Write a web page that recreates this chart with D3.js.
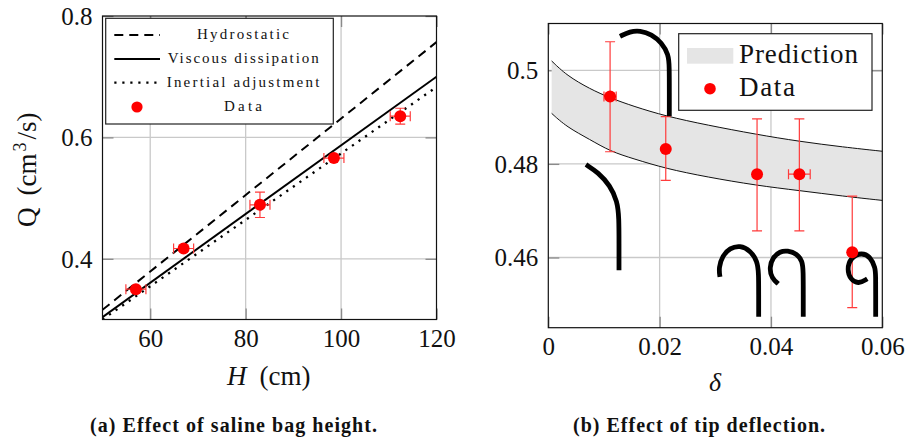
<!DOCTYPE html>
<html>
<head>
<meta charset="utf-8">
<script src="https://cdn.jsdelivr.net/npm/d3@7"></script>
<style>
    html, body { margin: 0; padding: 0; background: #fff; }
    svg { display: block; }
    text { font-family: "Liberation Serif", serif; fill: #111; }
</style>
</head>
<body>
<div id="chart"></div>
<script>
// panel (a): saline bag height
let heightTicks = [60, 80, 100, 120];
let flowTicks = [0.4, 0.6, 0.8];
let heightValues = [57, 67, 83, 98.5, 112.4];
let flowValues = [0.350, 0.417, 0.489, 0.566, 0.635];
let heightErrors = [2.1, 2.1, 2.1, 2.1, 2.1];
let flowErrors = [0.004, 0.004, 0.021, 0.004, 0.013];
let lineHeights = [50, 120];
let hydrostatic = [0.316, 0.757];
let viscous = [0.304, 0.700];
let inertial = [0.300, 0.683];

// panel (b): tip deflection
let deltaTicks = [0, 0.02, 0.04, 0.06];
let deltaTickLabels = ["0", "0.02", "0.04", "0.06"];
let ratioTicks = [0.46, 0.48, 0.5];
let deltaValues = [0.0111, 0.0211, 0.0375, 0.0451, 0.0546];
let deltaErrors = [0.0011, 0, 0, 0.00195, 0];
let ratioValues = [0.4944, 0.4832, 0.4778, 0.4778, 0.4611];
let ratioLow = [0.4826, 0.4765, 0.4657, 0.4657, 0.4493];
let ratioHigh = [0.5061, 0.4901, 0.4896, 0.4896, 0.4731];
let bandDeltas = [0.0006, 0.0033, 0.0075, 0.0111, 0.0153, 0.0211, 0.0285, 0.0374, 0.0451, 0.053, 0.06];
let bandUpper = [0.5020, 0.4989, 0.4960, 0.4941, 0.4923, 0.4902, 0.4883, 0.4863, 0.4848, 0.4836, 0.4827];
let bandLower = [0.4908, 0.4879, 0.4852, 0.4827, 0.4811, 0.4790, 0.4772, 0.4754, 0.4743, 0.4731, 0.4722];

// tip shapes drawn over panel (b), in its data units
let tipShapes = [
    [[.01288, .50726], [.01468, .50830], [.01647, .50850], [.01857, .50770], [.02037, .50590], [.02160, .50335], [.02174, .50085], [.02174, .49500], [.02174, .49018], [.02174, .49018]],
    [[.00677, .47986], [.00898, .47815], [.01108, .47540], [.01240, .47202], [.0127, .46847], [.0127, .46300], [.0127, .45728], [.0127, .45728]],
    [[.03084, .45587], [.03060, .4578], [.03130, .46040], [.03260, .4620], [.03444, .46260], [.03630, .46150], [.03755, .45921], [.03779, .45673], [.03779, .45200], [.03779, .44733], [.03779, .44733]],
    [[.04131, .45438], [.04013, .45560], [.03970, .4578], [.04035, .46010], [.04162, .46130], [.04293, .46150], [.04470, .46080], [.04565, .45921], [.0458, .45707], [.0458, .45200], [.0458, .44733], [.0458, .44733]],
    [[.0573, .45545], [.05569, .45430], [.0543, .45530], [.05365, .45743], [.0543, .46000], [.0563, .46110], [.05790, .46010], [.05875, .4578], [.05881, .456], [.05881, .45200], [.05881, .44733], [.05881, .44733]]
];

const red = "#ff0000";
const errorRed = "#ff3b3b";

let svg = d3.select("#chart").append("svg")
    .attr("width", 911)
    .attr("height", 441);

// the frame, grid and tick labels are the same for both panels
function drawFrame(x, y, xTicks, yTicks, xFormat, yFormat) {
    let [left, right] = x.range();
    let [bottom, top] = y.range();

    let grid = svg.append("g").attr("stroke", "#c9c9c9").attr("stroke-width", 1.3);
    grid.selectAll("line.v")
        .data(xTicks.filter(d => x(d) > left + 1 && x(d) < right - 1))
        .enter().append("line")
        .attr("x1", d => x(d)).attr("x2", d => x(d))
        .attr("y1", top).attr("y2", bottom);
    grid.selectAll("line.h")
        .data(yTicks.filter(d => y(d) > top + 1))
        .enter().append("line")
        .attr("x1", left).attr("x2", right)
        .attr("y1", d => y(d)).attr("y2", d => y(d));

    // inward ticks on all four sides
    let axes = [
        [d3.axisBottom(x), bottom, 0, xTicks, xFormat],
        [d3.axisTop(x), top, 0, xTicks, null],
        [d3.axisLeft(y), 0, left, yTicks, yFormat],
        [d3.axisRight(y), 0, right, yTicks, null]
    ];
    axes.forEach(function ([axis, ty, tx, ticks, format]) {
        axis.tickValues(ticks).tickSizeOuter(0).tickSizeInner(-11).tickPadding(0)
            .tickFormat(format || "");
        let g = svg.append("g")
            .attr("transform", "translate(" + tx + "," + ty + ")")
            .call(axis);
        g.select(".domain").remove();
        g.selectAll(".tick line").attr("stroke", "#8a8a8a").attr("stroke-width", 1.3);
        g.selectAll("text").attr("font-size", 25).attr("font-family", null);
    });
    return {left, right, top, bottom};
}

function drawBorder(box) {
    svg.append("rect")
        .attr("x", box.left).attr("y", box.top)
        .attr("width", box.right - box.left).attr("height", box.bottom - box.top)
        .attr("fill", "none")
        .attr("stroke", "#111")
        .attr("stroke-width", 1.2);
}

function drawErrors(g, pts) {
    let bars = g.append("g").attr("stroke", errorRed).attr("stroke-width", 1.2).attr("fill", "none");
    pts.forEach(function (p) {
        bars.append("path").attr("d",
            "M" + p.x + "," + p.y0 + "V" + p.y1 +
            "M" + (p.x - 5) + "," + p.y0 + "h10" +
            "M" + (p.x - 5) + "," + p.y1 + "h10");
        if (p.x1 - p.x0 > 1) {
            bars.append("path").attr("d",
                "M" + p.x0 + "," + p.y + "H" + p.x1 +
                "M" + p.x0 + "," + (p.y - 5) + "v10" +
                "M" + p.x1 + "," + (p.y - 5) + "v10");
        }
    });
}

function drawDots(g, pts) {
    g.append("g").selectAll("circle")
        .data(pts)
        .enter().append("circle")
        .attr("cx", d => d.x)
        .attr("cy", d => d.y)
        .attr("r", 6)
        .attr("fill", red);
}

// ---- panel (a)
let xA = d3.scaleLinear().domain([50, 120]).range([102.5, 436.5]);
let yA = d3.scaleLinear().domain([0.3, 0.8]).range([319.5, 16]);
let boxA = drawFrame(xA, yA, heightTicks, flowTicks, d => d, d => d.toFixed(1));

svg.append("clipPath").attr("id", "clip-a").append("rect")
    .attr("x", boxA.left).attr("y", boxA.top)
    .attr("width", boxA.right - boxA.left).attr("height", boxA.bottom - boxA.top);

let plotA = svg.append("g").attr("clip-path", "url(#clip-a)");
let fitLine = d3.line().x((d, i) => xA(lineHeights[i])).y(d => yA(d));
let lineStyles = [
    {name: "Hydrostatic", values: hydrostatic, dash: "9 6", width: 2},
    {name: "Viscous dissipation", values: viscous, dash: null, width: 2},
    {name: "Inertial adjustment", values: inertial, dash: "2.2 5.8", width: 2.3}
];
lineStyles.forEach(function (s) {
    plotA.append("path")
        .attr("d", fitLine(s.values))
        .attr("fill", "none")
        .attr("stroke", "#000")
        .attr("stroke-width", s.width)
        .attr("stroke-dasharray", s.dash);
});

let ptsA = heightValues.map((h, i) => ({
    x: xA(h), y: yA(flowValues[i]),
    x0: xA(h - heightErrors[i]), x1: xA(h + heightErrors[i]),
    y0: yA(flowValues[i] - flowErrors[i]), y1: yA(flowValues[i] + flowErrors[i])
}));
drawErrors(plotA, ptsA);
drawDots(plotA, ptsA);
drawBorder(boxA);

// legend of panel (a), its text is stretched like the original
let legendA = svg.append("g");
legendA.append("rect")
    .attr("x", 105.7).attr("y", 18.3).attr("width", 227.6).attr("height", 105.7)
    .attr("fill", "#fff").attr("stroke", "#222").attr("stroke-width", 1.2);
let legendRows = [
    {label: "Hydrostatic", y: 35, dash: "9 6", width: 2, x: 197, w: 92},
    {label: "Viscous dissipation", y: 59, dash: null, width: 2, x: 167.7, w: 151},
    {label: "Inertial adjustment", y: 82.7, dash: "2.2 5.8", width: 2.3, x: 166.7, w: 152.6},
    {label: "Data", y: 107, x: 224, w: 38}
];
legendRows.forEach(function (r) {
    legendA.append("text")
        .attr("x", r.x).attr("y", r.y + 4)
        .attr("font-size", 15)
        .attr("fill", "#222")
        .attr("textLength", r.w)
        .attr("lengthAdjust", "spacing")
        .text(r.label);
    if (r.label !== "Data") {
        legendA.append("line")
            .attr("x1", 114.3).attr("x2", 160)
            .attr("y1", r.y).attr("y2", r.y)
            .attr("stroke", "#000").attr("stroke-width", r.width)
            .attr("stroke-dasharray", r.dash);
    }
});
legendA.append("circle").attr("cx", 137).attr("cy", 107).attr("r", 5.6).attr("fill", red);

// axis titles of panel (a)
let xTitleA = svg.append("text").attr("x", 227).attr("y", 385).attr("font-size", 27);
xTitleA.append("tspan").attr("font-style", "italic").text("H");
xTitleA.append("tspan").attr("dx", 13).text("(cm)");

let yTitleA = svg.append("text")
    .attr("transform", "translate(36,227) rotate(-90)")
    .attr("font-size", 27);
yTitleA.append("tspan").text("Q");
yTitleA.append("tspan").attr("dx", 12).text("(cm");
yTitleA.append("tspan").attr("font-size", 18).attr("dx", 2).attr("dy", -10).text("3");
yTitleA.append("tspan").attr("dx", 3).attr("dy", 10).text("/s)");

svg.append("text")
    .attr("x", 90).attr("y", 432)
    .attr("font-size", 20).attr("font-weight", "bold")
    .attr("textLength", 287)
    .text("(a) Effect of saline bag height.");

// ---- panel (b)
let xB = d3.scaleLinear().domain([0, 0.06]).range([548.3, 882.3]);
let yB = d3.scaleLinear().domain([0.445, 0.51]).range([327.7, 23.5]);
let boxB = drawFrame(xB, yB, deltaTicks, ratioTicks,
    (d, i) => deltaTickLabels[i], d => d === 0.5 ? "0.5" : d.toFixed(2));

let band = d3.area()
    .x((d, i) => xB(bandDeltas[i]))
    .y0((d, i) => yB(bandLower[i]))
    .y1(d => yB(d))
    .curve(d3.curveBasis);
svg.append("path").attr("d", band(bandUpper)).attr("fill", "#e5e5e5");

let bandEdge = d3.line()
    .x((d, i) => xB(bandDeltas[i]))
    .y(d => yB(d))
    .curve(d3.curveBasis);
[bandUpper, bandLower].forEach(function (edge) {
    svg.append("path")
        .attr("d", bandEdge(edge))
        .attr("fill", "none")
        .attr("stroke", "#111")
        .attr("stroke-width", 1);
});

let ptsB = deltaValues.map((d, i) => ({
    x: xB(d), y: yB(ratioValues[i]),
    x0: xB(d - deltaErrors[i]), x1: xB(d + deltaErrors[i]),
    y0: yB(ratioLow[i]), y1: yB(ratioHigh[i])
}));
drawErrors(svg, ptsB);

let tipLine = d3.line()
    .x(d => xB(d[0]))
    .y(d => yB(d[1]))
    .curve(d3.curveBasis);
svg.append("g").selectAll("path")
    .data(tipShapes)
    .enter().append("path")
    .attr("d", tipLine)
    .attr("fill", "none")
    .attr("stroke", "#000")
    .attr("stroke-width", 4.8);

drawDots(svg, ptsB);
drawBorder(boxB);

// legend of panel (b)
let legendB = svg.append("g");
legendB.append("rect")
    .attr("x", 678.7).attr("y", 33.7).attr("width", 193.3).attr("height", 76.6)
    .attr("fill", "#fff").attr("stroke", "#222").attr("stroke-width", 1.2);
legendB.append("rect")
    .attr("x", 687).attr("y", 48).attr("width", 46.3).attr("height", 15.7)
    .attr("fill", "#e5e5e5");
legendB.append("circle").attr("cx", 710).attr("cy", 88.7).attr("r", 5.8).attr("fill", red);
legendB.append("text").attr("x", 739).attr("y", 63).attr("font-size", 27)
    .attr("textLength", 119).text("Prediction");
legendB.append("text").attr("x", 739).attr("y", 96).attr("font-size", 27)
    .attr("textLength", 56).text("Data");

svg.append("text")
    .attr("x", 715).attr("y", 391)
    .attr("text-anchor", "middle")
    .attr("font-size", 26).attr("font-style", "italic")
    .text("δ");

svg.append("text")
    .attr("x", 573).attr("y", 432)
    .attr("font-size", 20).attr("font-weight", "bold")
    .attr("textLength", 252)
    .text("(b) Effect of tip deflection.");

// put the tick labels where the original has them
svg.selectAll("g.tick text").each(function () {
    let t = d3.select(this);
    if (t.text() === "") return;
    if (t.attr("x") !== null && +t.attr("x") <= 0 && t.attr("dy") === "0.32em") {
        t.attr("x", -10).attr("dy", "0.33em");
    } else {
        t.attr("y", 27.5).attr("dy", 0);
    }
});
</script>
</body>
</html>
